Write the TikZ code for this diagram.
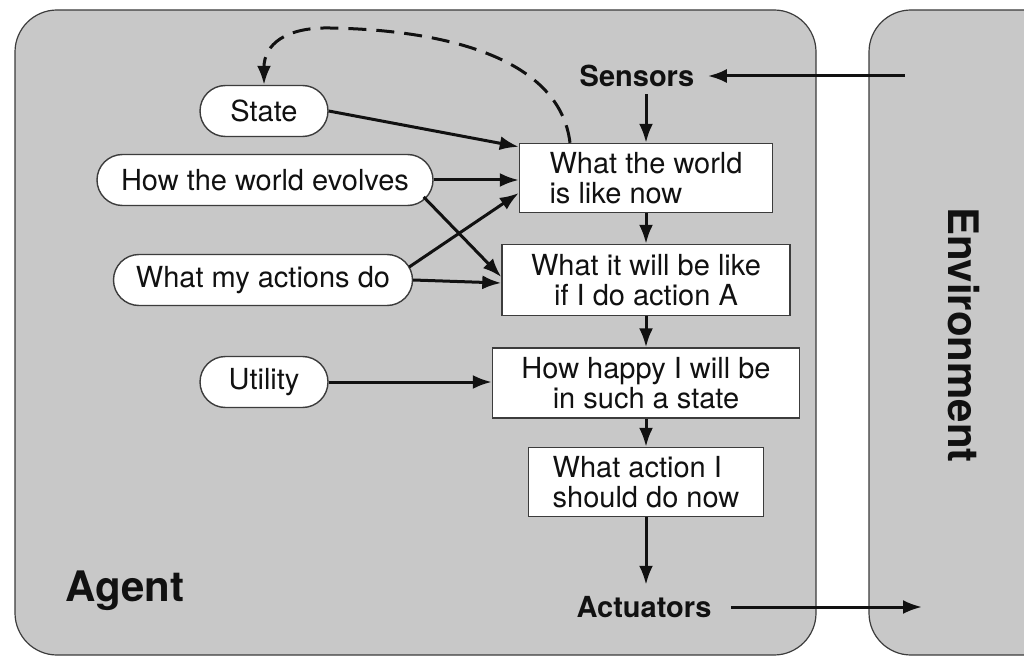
\documentclass[tikz,border=0pt]{standalone}
\usepackage{fontspec}
\setmainfont{TeX Gyre Heros}
\usetikzlibrary{shapes.misc,arrows.meta}
\newcommand{\picwidth}{1024pt}
\newcommand{\picheight}{657pt}
\definecolor{agentbg}{HTML}{C8C8C8}
\definecolor{framecolor}{HTML}{3C3C3C}
\definecolor{arrowcolor}{HTML}{111111}
\definecolor{textcolor}{HTML}{111111}

\begin{document}
\begin{tikzpicture}[
  oval/.style={rounded rectangle, draw=framecolor, line width=1.4pt, fill=white,
    minimum height=51pt, inner xsep=2pt, text=textcolor,
    font=\fontsize{29}{30}\selectfont},
  box/.style={rectangle, draw=framecolor, line width=1.4pt, fill=white,
    inner sep=0pt, text=textcolor, font=\fontsize{29}{30}\selectfont},
  portname/.style={text=textcolor, font=\bfseries\fontsize{29}{30}\selectfont},
  bigname/.style={text=textcolor, font=\bfseries\fontsize{42}{44}\selectfont},
  flow/.style={draw=arrowcolor, line width=3pt,
    -{Latex[length=19pt,width=14pt]}},
]
  % Page
  \useasboundingbox (0,0) rectangle (\picwidth, \picheight);
  \fill[white] (0,0) rectangle (\picwidth, \picheight);

  % Agent and environment panels
  \begin{scope}
    \clip (0,0) rectangle (\picwidth, \picheight);
    \filldraw[agentbg, draw=framecolor, line width=1.2pt, rounded corners=42pt]
      (15pt, 2pt) rectangle (816pt, 647pt);
    \filldraw[agentbg, draw=framecolor, line width=1.2pt, rounded corners=42pt]
      (869pt, 2pt) rectangle (1090pt, 647pt);
  \end{scope}

  % Labels
  \node[bigname] (agent) at (125pt, 66pt) {Agent};
  \node[bigname, rotate=-90] (environment) at (964pt, 322pt) {Environment};
  \node[portname] (sensors) at (637pt, 581pt) {Sensors};
  \node[portname] (actuators) at (644pt, 50pt) {Actuators};
  \coordinate (percept) at (905pt, 581pt);
  \coordinate (action) at (922pt, 50pt);

  % Knowledge ovals
  \node[oval, minimum width=132pt] (state) at (264pt, 546pt) {State};
  \node[oval, minimum width=340pt] (evolves) at (265pt, 477pt) {How the world evolves};
  \node[oval, minimum width=303pt] (actions) at (263pt, 377pt) {What my actions do};
  \node[oval, minimum width=132pt] (utility) at (264pt, 275pt) {Utility};

  % Reasoning boxes
  \node[box, minimum width=253pt, minimum height=69pt, align=left]
    (nowbox) at (646pt, 479pt) {What the world\\is like now};
  \node[box, minimum width=288pt, minimum height=71pt, align=center]
    (predictbox) at (646pt, 377pt) {What it will be like\\if I do action A};
  \node[box, minimum width=307pt, minimum height=70pt, align=center]
    (happybox) at (646pt, 274pt) {How happy I will be\\in such a state};
  \node[box, minimum width=235pt, minimum height=69pt, align=left]
    (choicebox) at (646pt, 175pt) {What action I\\should do now};

  % Percepts in, actions out
  \draw[flow, shorten >=10pt] (percept) -- (sensors);
  \draw[flow, shorten <=16pt] (actuators) -- (action);

  % Main chain
  \draw[flow, shorten <=4pt] (sensors.south -| nowbox.north) -- (nowbox.north);
  \draw[flow] (nowbox) -- (predictbox);
  \draw[flow] (predictbox) -- (happybox);
  \draw[flow] (happybox) -- (choicebox);
  \draw[flow, shorten >=8pt] (choicebox.south) -- (choicebox.south |- actuators.north);

  % Knowledge feeding the boxes
  \draw[flow] (state.east) -- ([yshift=-4pt]nowbox.north west);
  \draw[flow] (evolves.east) -- (evolves.east -| nowbox.west);
  \draw[flow] ([xshift=-10pt,yshift=-17pt]evolves.east) -- ([yshift=3pt]predictbox.west);
  \draw[flow] ([xshift=-4pt,yshift=13pt]actions.east) -- ([yshift=-15pt]nowbox.west);
  \draw[flow] (actions.east) -- ([yshift=-3pt]predictbox.west);
  \draw[flow] (utility.east) -- (utility.east -| happybox.west);

  % State update loop
  \draw[flow, dash pattern=on 18pt off 10pt]
    ([xshift=-76pt]nowbox.north) .. controls (560pt, 597pt) and (450pt, 627pt) .. (330pt, 629pt)
    .. controls (285pt, 630pt) and (264pt, 612pt) .. (state.north);
\end{tikzpicture}
\end{document}
